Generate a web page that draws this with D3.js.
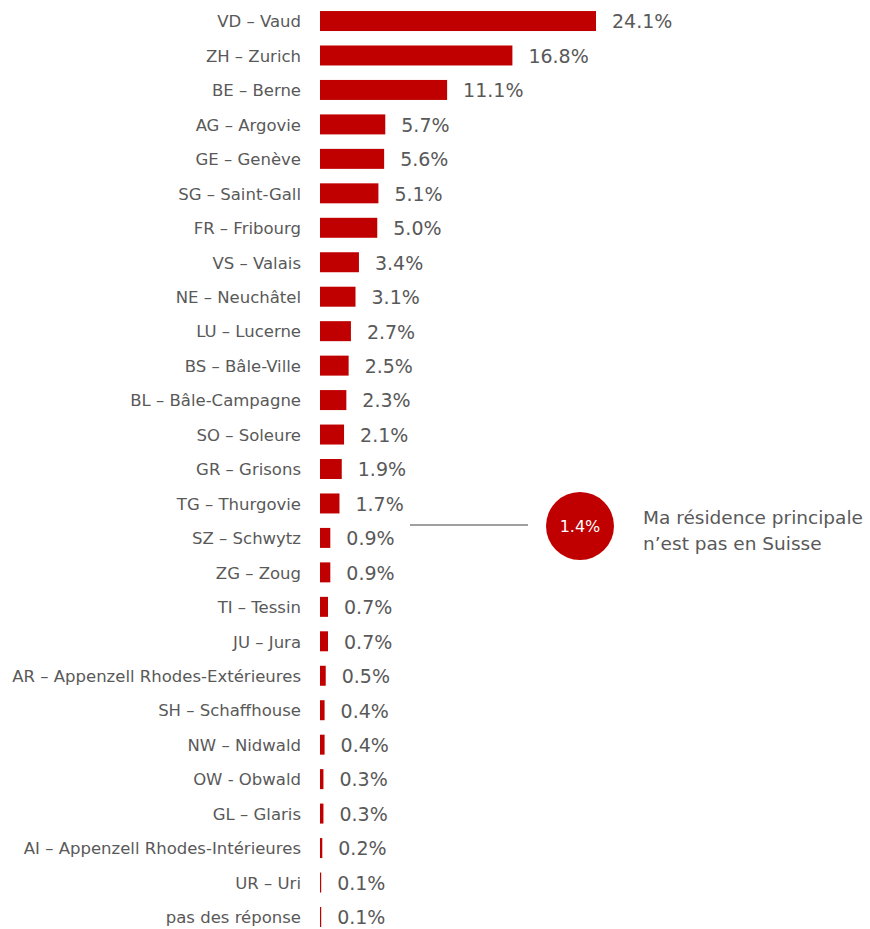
<!DOCTYPE html>
<html><head><meta charset="utf-8">
<script src="https://cdn.jsdelivr.net/npm/d3@7"></script>
<style>body{margin:0;background:#fff}svg{display:block}</style>
</head><body>
<script>
const categories = ["VD – Vaud","ZH – Zurich","BE – Berne","AG – Argovie","GE – Genève","SG – Saint-Gall","FR – Fribourg","VS – Valais","NE – Neuchâtel","LU – Lucerne","BS – Bâle-Ville","BL – Bâle-Campagne","SO – Soleure","GR – Grisons","TG – Thurgovie","SZ – Schwytz","ZG – Zoug","TI – Tessin","JU – Jura","AR – Appenzell Rhodes-Extérieures","SH – Schaffhouse","NW – Nidwald","OW - Obwald","GL – Glaris","AI – Appenzell Rhodes-Intérieures","UR – Uri","pas des réponse"];
const values = [24.1,16.8,11.1,5.7,5.6,5.1,5.0,3.4,3.1,2.7,2.5,2.3,2.1,1.9,1.7,0.9,0.9,0.7,0.7,0.5,0.4,0.4,0.3,0.3,0.2,0.1,0.1];
const outsideValue = 1.4;
const outsideLabel = ["Ma résidence principale","n’est pas en Suisse"];

const W = 870, H = 929;
const svg = d3.select("body").append("svg").attr("width", W).attr("height", H);
const font = "'DejaVu Sans', Verdana, sans-serif";
const red = "#C00000", grey = "#595959";

const x = d3.scaleLinear().domain([0, 24.1]).range([320, 596]);
const y = d3.scaleBand().domain(categories).range([3.8, 934.2]).paddingInner(0.42).paddingOuter(0.21);

const data = categories.map((c, i) => ({c, v: values[i]}));

svg.selectAll("rect.bar").data(data).join("rect")
  .attr("class", "bar")
  .attr("x", x(0))
  .attr("y", d => y(d.c))
  .attr("width", d => Math.max(1.2, x(d.v) - x(0)))
  .attr("height", y.bandwidth())
  .attr("fill", red);

svg.selectAll("text.cat").data(data).join("text")
  .attr("class", "cat")
  .attr("x", 301)
  .attr("y", d => y(d.c) + y.bandwidth() / 2 + 0.5)
  .attr("dy", "0.35em")
  .attr("text-anchor", "end")
  .attr("font-family", font)
  .attr("font-size", 16.5)
  .attr("fill", grey)
  .text(d => d.c);

svg.selectAll("text.val").data(data).join("text")
  .attr("class", "val")
  .attr("x", d => x(d.v) + 16)
  .attr("y", d => y(d.c) + y.bandwidth() / 2 + 0.5)
  .attr("dy", "0.36em")
  .attr("font-family", font)
  .attr("font-size", 19)
  .attr("fill", grey)
  .text(d => d.v.toFixed(1) + "%");

// outside-Switzerland callout
const cy = 526;
svg.append("line").attr("x1", 410).attr("x2", 528).attr("y1", cy - 1).attr("y2", cy - 1)
  .attr("stroke", "#7f7f7f").attr("stroke-width", 1.5);
svg.append("circle").attr("cx", 580).attr("cy", cy).attr("r", 34).attr("fill", red);
svg.append("text").attr("x", 580).attr("y", cy).attr("dy", "0.36em").attr("text-anchor", "middle")
  .attr("font-family", font).attr("font-size", 16).attr("fill", "#fff").text(outsideValue.toFixed(1) + "%");
svg.append("text").attr("font-family", font).attr("font-size", 18.5).attr("fill", grey)
  .selectAll("tspan").data(outsideLabel).join("tspan")
  .attr("x", 643).attr("y", (d, i) => 517 + i * 26).attr("dy", "0.36em").text(d => d);
</script>
</body></html>
